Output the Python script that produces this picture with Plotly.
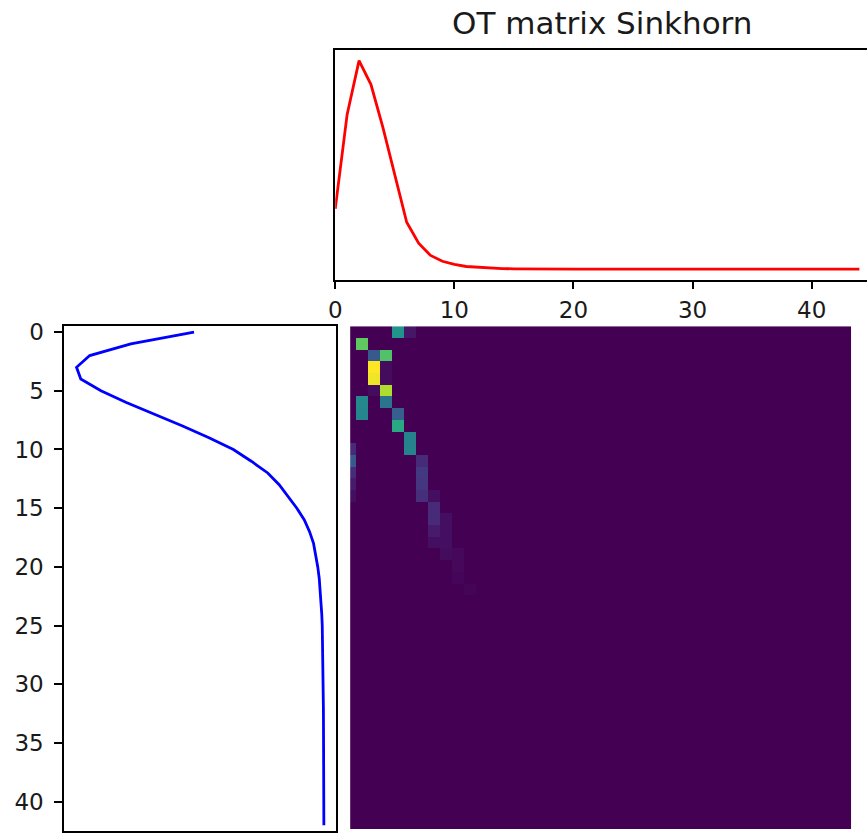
import numpy as np
import plotly.graph_objects as go

# Target distribution (top panel)
target_x = list(range(45))
target_b = [0.290, 0.742, 1.000, 0.885, 0.680, 0.445, 0.225, 0.125, 0.066, 0.038,
            0.023, 0.013, 0.009, 0.005, 0.003, 0.002, 0.001, 0.0008, 0.0006, 0.0004,
            0.0003, 0.0002, 0.0001, 0.0, 0.0, 0.0, 0.0, 0.0, 0.0, 0.0,
            0.0, 0.0, 0.0, 0.0, 0.0, 0.0, 0.0, 0.0, 0.0, 0.0,
            0.0, 0.0, 0.0, 0.0, 0.0]

# Source distribution (left panel)
source_y = list(range(43))
source_a = [0.528, 0.782, 0.947, 1.000, 0.983, 0.902, 0.800, 0.685, 0.574, 0.468,
            0.370, 0.298, 0.232, 0.186, 0.150, 0.115, 0.085, 0.064, 0.048, 0.038,
            0.031, 0.025, 0.021, 0.018, 0.015, 0.013, 0.012, 0.011, 0.010, 0.0095,
            0.0090, 0.0087, 0.0084, 0.0081, 0.0078, 0.0076, 0.0074, 0.0072, 0.0070,
            0.0068, 0.0067, 0.0066, 0.0065]

# Sinkhorn coupling: non-zero entries (row, column, value)
coupling_rows = [0, 0, 1, 2, 2, 3, 3, 4, 4, 5, 5, 6, 6, 7, 7, 8, 9, 10, 10,
                 11, 11, 12, 12, 13, 13, 14, 14, 14, 15, 16, 16, 17, 17, 18, 18,
                 19, 19, 20, 21, 22]
coupling_cols = [4, 5, 1, 2, 3, 2, 3, 2, 3, 2, 3, 1, 3, 1, 4, 4, 5, 5, 0,
                 0, 6, 0, 6, 0, 6, 0, 6, 7, 7, 7, 8, 7, 8, 7, 8,
                 8, 9, 9, 9, 10]
coupling_vals = [0.52, 0.06, 0.75, 0.28, 0.72, 1.00, 0.03, 0.98, 0.03, 0.03, 0.88,
                 0.47, 0.38, 0.46, 0.30, 0.60, 0.45, 0.45, 0.12,
                 0.28, 0.12, 0.12, 0.17, 0.07, 0.16, 0.04, 0.13, 0.04, 0.12,
                 0.12, 0.04, 0.07, 0.04, 0.04, 0.04, 0.03, 0.02, 0.02, 0.015, 0.01]

title_text = "OT matrix Sinkhorn"
tick_vals_x = [0, 10, 20, 30, 40]
tick_vals_y = [0, 5, 10, 15, 20, 25, 30, 35, 40]

W, H = 867, 834
FONT = "DejaVu Sans"

# The drawing area starts a few pixels in from the page corner; panel
# edges below are given in page pixels and converted to paper fractions.
OX, OY = 5, 5


def fx(p):
    return (p - OX) / (W - OX)


def fy(p):
    return 1 - (p - OY) / (H - OY)


def padded(vals, frac=0.05):
    lo, hi = min(vals), max(vals)
    span = hi - lo
    return [lo - frac * span, hi + frac * span]


na, nb = len(source_y), len(target_x)
M = np.zeros((na, nb))
for r, c, v in zip(coupling_rows, coupling_cols, coupling_vals):
    M[r, c] = v

fig = go.Figure()

fig.add_trace(go.Scatter(x=target_x, y=target_b, mode="lines",
                         line=dict(color="#ff0000", width=2.8),
                         xaxis="x", yaxis="y", showlegend=False,
                         name="Target distribution"))

fig.add_trace(go.Scatter(x=source_a, y=source_y, mode="lines",
                         line=dict(color="#0000ff", width=2.8),
                         xaxis="x2", yaxis="y2", showlegend=False,
                         name="Source distribution"))

fig.add_trace(go.Heatmap(z=M, x=target_x, y=source_y, colorscale="Viridis",
                         zmin=0, zmax=float(M.max()), showscale=False,
                         xaxis="x3", yaxis="y3"))

px_per_unit = 11.94
top_left = 334
top_range = [0, (W - top_left) / px_per_unit]

tickfont = dict(family=FONT, size=23, color="#1a1a1a")
line_kw = dict(showline=True, linecolor="#000000", linewidth=1.6,
               showgrid=False, zeroline=False)

a_lo, a_hi = padded(source_a)

fig.update_layout(
    width=W, height=H,
    margin=dict(l=0, r=0, t=0, b=0, pad=0),
    paper_bgcolor="white", plot_bgcolor="white",
    xaxis=dict(domain=[fx(top_left), 1.0], range=top_range, anchor="y",
               mirror=True, ticks="outside", ticklen=8, tickwidth=1.6,
               tickcolor="#000000", tickvals=tick_vals_x, tickfont=tickfont,
               ticklabelstandoff=1, **line_kw),
    yaxis=dict(domain=[fy(278.3), fy(48.3)], range=padded(target_b),
               anchor="x", mirror=False, ticks="", showticklabels=False,
               **line_kw),
    xaxis2=dict(domain=[fx(62.3), fx(335)], range=[a_hi, a_lo], anchor="y2",
                mirror=True, ticks="", showticklabels=False, **line_kw),
    yaxis2=dict(domain=[fy(831), fy(325)], range=[na - 0.5, -0.5], anchor="x2",
                mirror=True, ticks="outside", ticklen=8, tickwidth=1.6,
                tickcolor="#000000", tickvals=tick_vals_y, tickfont=tickfont,
                ticklabelstandoff=6, **line_kw),
    xaxis3=dict(domain=[fx(349), fx(851)], range=[0, 502 / 12.0], anchor="y3",
                visible=False, showgrid=False, zeroline=False),
    yaxis3=dict(domain=[fy(829), fy(325)], range=[na - 0.5, -0.5], anchor="x3",
                visible=False, showgrid=False, zeroline=False),
    annotations=[dict(text=title_text, x=fx(601), y=fy(21), xref="paper",
                      yref="paper", showarrow=False, xanchor="center",
                      yanchor="middle",
                      font=dict(family=FONT, size=31, color="#1a1a1a"))],
)

fig.write_html("out.html")
